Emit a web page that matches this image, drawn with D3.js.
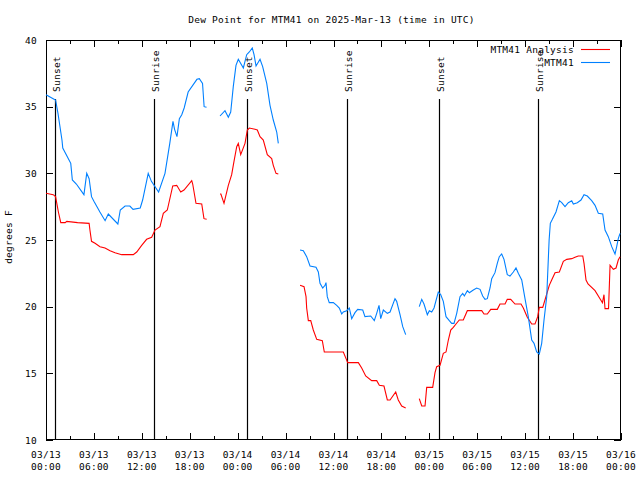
<!DOCTYPE html>
<html><head><meta charset="utf-8">
<script src="https://cdn.jsdelivr.net/npm/d3@7"></script>
<style>body{margin:0;background:#fff} text{letter-spacing:0.25px}</style>
</head><body><svg id="c" width="640" height="480"></svg>
<script>
// ---- data (hours after 2025-03-13 00:00 UTC; null value = gap) ----
const seriesNames = ["MTM41 Analysis", "MTM41"];
const analysisHours = [0.0,0.9,1.2,1.55,1.85,2.4,2.6,3.95,5.4,5.5,5.7,6.14,6.76,7.39,8.02,8.64,9.48,10.93,11.36,11.98,12.6,13.23,13.65,14.27,14.69,15.19,15.87,16.37,16.87,17.28,18.25,18.37,18.78,19.5,19.78,20.12,
  21.0,
  21.79,21.9,22.29,22.83,23.25,23.54,23.88,24.08,24.38,24.92,25.21,25.46,26.17,26.46,26.8,27.21,27.71,28.26,28.46,28.8,29.09,
  30.5,
  31.81,32.31,32.56,32.64,32.85,33.15,33.47,33.9,34.6,34.85,35.56,37.23,37.57,37.78,39.11,39.53,40.03,40.78,41.41,41.74,42.32,42.74,43.08,43.79,44.11,44.54,45.04,
  46.0,
  46.74,47.05,47.46,47.67,48.42,48.71,48.92,49.34,49.75,50.09,50.38,50.68,51.0,51.34,51.75,52.25,52.76,54.56,54.85,55.26,55.69,56.51,56.85,57.48,57.76,58.19,58.73,59.48,59.77,60.27,60.82,61.23,61.57,61.77,62.2,62.48,63.02,63.32,63.74,64.28,64.78,65.21,65.83,66.24,66.65,67.21,67.37,67.62,67.87,68.75,69.37,69.68,69.87,70.0,70.44,70.63,71.04,71.38,71.66,71.88];
const analysisValues = [28.5,28.4,28.25,27.1,26.3,26.3,26.4,26.3,26.25,25.75,24.9,24.75,24.5,24.4,24.2,24.05,23.9,23.9,24.1,24.6,25.05,25.2,25.75,26.0,27.0,27.25,29.05,29.1,28.6,28.75,29.45,29.2,27.75,27.7,26.6,26.55,
  null,
  28.45,28.45,27.75,29.1,29.9,30.9,32.0,32.25,31.4,32.25,33.25,33.4,33.3,33.25,32.75,32.5,31.4,31.1,30.6,30.0,29.95,
  null,
  21.6,21.5,20.75,19.9,18.95,18.95,18.25,17.55,17.45,16.6,16.6,16.6,16.1,15.8,15.8,15.4,14.8,14.45,14.45,14.1,14.05,13.0,13.0,13.6,13.0,12.55,12.4,
  null,
  13.1,12.55,12.55,13.95,13.95,15.05,15.5,15.6,16.5,16.6,17.5,18.25,18.45,18.7,19.0,19.0,19.7,19.7,19.45,19.45,19.8,19.8,20.2,20.2,20.55,20.55,20.2,20.2,19.9,19.2,18.7,18.7,19.25,19.95,19.95,20.5,21.6,22.0,22.55,22.6,23.4,23.55,23.6,23.7,23.8,23.8,23.25,22.0,21.7,21.2,20.6,20.3,20.9,19.85,19.85,23.1,22.8,22.9,23.5,23.75];

const stationHours = [0.0,0.9,1.2,1.5,2.0,2.1,2.8,3.1,3.3,3.8,4.75,5.1,5.4,5.7,6.0,6.75,7.4,7.8,9.0,9.3,9.9,10.5,10.9,11.8,12.1,12.8,13.2,14.1,14.9,15.5,15.9,16.1,16.4,16.7,17.0,17.3,17.8,18.9,19.2,19.6,19.8,20.1,
  21.0,
  21.79,22.41,22.83,23.13,23.45,23.79,24.08,24.71,25.13,25.46,25.83,26.05,26.3,26.8,27.13,27.64,28.05,28.46,28.89,29.09,
  30.5,
  31.81,32.22,32.64,33.06,33.81,34.1,34.31,34.65,34.94,35.06,35.22,35.47,35.98,36.4,36.73,37.03,37.23,37.65,37.98,38.28,38.69,39.03,39.66,39.94,40.66,41.11,41.41,41.7,41.91,42.24,42.74,43.08,43.7,43.91,44.33,44.67,45.04,
  46.0,
  46.74,47.05,47.33,47.75,48.0,48.3,48.59,49.12,49.42,49.75,50.09,50.5,50.8,51.09,51.43,51.84,52.18,52.38,52.76,53.01,53.51,53.93,54.35,54.68,54.97,55.26,55.6,55.81,56.22,56.51,56.76,57.06,57.35,57.76,58.1,58.52,58.85,59.14,59.57,59.98,60.39,60.82,61.11,61.44,61.77,62.07,62.36,62.7,63.0,63.15,63.41,63.86,64.28,64.58,64.99,65.4,65.83,66.03,66.53,66.99,67.37,67.78,68.33,68.75,69.16,69.71,70.0,70.41,70.84,71.25,71.46,71.66,71.88];
const stationValues = [35.9,35.6,35.5,34.5,32.5,31.9,31.1,30.75,29.5,29.2,28.4,30.0,29.6,28.25,27.9,27.1,26.45,26.95,26.2,27.25,27.55,27.55,27.3,27.4,28.0,30.0,29.4,28.6,30.0,32.25,33.9,33.3,32.75,34.1,34.4,34.9,36.1,37.05,37.1,36.75,35.0,34.95,
  null,
  34.3,34.7,34.2,34.6,36.5,38.1,38.55,37.9,38.9,39.1,39.4,38.9,38.05,38.55,38.0,36.75,35.1,34.0,33.1,32.25,
  null,
  24.25,24.2,23.75,23.05,22.95,22.6,21.75,21.4,21.6,21.8,20.75,20.3,20.3,20.1,19.9,19.45,19.6,19.7,19.9,19.1,19.55,19.8,19.75,19.25,19.3,18.95,19.5,20.1,19.1,19.75,19.5,19.6,20.6,20.4,19.4,18.5,17.9,
  null,
  20.0,20.55,20.2,19.4,19.7,19.6,19.9,21.1,20.9,20.4,19.25,18.95,18.75,18.75,19.5,20.75,21.0,20.8,21.2,21.05,21.25,21.4,21.3,20.8,20.55,20.6,21.4,22.1,22.55,23.25,23.75,23.95,23.55,22.4,22.3,22.6,22.9,22.5,22.0,20.6,19.25,17.5,17.25,16.6,16.45,17.25,19.0,20.75,25.0,26.25,26.55,27.1,27.95,27.8,27.5,27.8,27.95,27.7,27.8,28.0,28.4,28.3,27.95,27.6,27.0,26.95,25.75,25.25,24.5,23.95,24.5,25.1,25.5];

const eventNames = ["Sunset","Sunrise","Sunset","Sunrise","Sunset","Sunrise"];
const eventHours = [1.17,13.52,25.17,37.69,49.21,61.61];
const yTicks = [10,15,20,25,30,35,40];
const titleText = "Dew Point for MTM41 on 2025-Mar-13 (time in UTC)";
const yLabel = "degrees F";

// ---- chart ----
const FONT = "'DejaVu Sans Mono','Liberation Mono',monospace";
const FS = "9.5px";
const t0 = Date.UTC(2025,2,13,0,0);
const toDate = h => new Date(t0 + h*3600e3);
const svg = d3.select("#c");
const L = 46, R = 621, T = 40, B = 440;
const x = d3.scaleUtc().domain([toDate(0), toDate(72)]).range([L, R]);
const y = d3.scaleLinear().domain([10, 40]).range([B, T]);

svg.append("rect").attr("width",640).attr("height",480).attr("fill","#fff");

const major = d3.range(0, 73, 6).map(toDate);
const minor = d3.range(3, 72, 6).map(toDate);

// bottom axis
svg.append("g").attr("transform",`translate(0,${B})`)
  .call(d3.axisBottom(x).tickValues(major).tickSize(-7).tickSizeOuter(0).tickFormat(""));
svg.append("g").attr("transform",`translate(0,${B})`)
  .call(d3.axisBottom(x).tickValues(minor).tickSize(-4).tickSizeOuter(0).tickFormat(""));
// top axis
svg.append("g").attr("transform",`translate(0,${T})`)
  .call(d3.axisTop(x).tickValues(major).tickSize(-7).tickSizeOuter(0).tickFormat(""));
svg.append("g").attr("transform",`translate(0,${T})`)
  .call(d3.axisTop(x).tickValues(minor).tickSize(-4).tickSizeOuter(0).tickFormat(""));
// left / right
svg.append("g").attr("transform",`translate(${L},0)`)
  .call(d3.axisLeft(y).tickValues(yTicks).tickSize(-7).tickSizeOuter(0).tickPadding(9).tickFormat(d3.format("d")));
svg.append("g").attr("transform",`translate(${R},0)`)
  .call(d3.axisRight(y).tickValues(yTicks).tickSize(-7).tickSizeOuter(0).tickFormat(""));

svg.selectAll(".domain").remove();
svg.selectAll(".tick line").attr("stroke","#000").attr("shape-rendering","crispEdges");
svg.selectAll(".tick text").attr("font-family",FONT).attr("font-size",FS).attr("fill","#000");

// x labels (two lines)
const fd = d3.utcFormat("%m/%d"), ft = d3.utcFormat("%H:%M");
const xl = svg.append("g").attr("font-family",FONT).attr("font-size",FS).attr("text-anchor","middle");
major.forEach(d => {
  const t = xl.append("text").attr("x", x(d));
  t.append("tspan").attr("x", x(d)).attr("y", 457.5).text(fd(d));
  t.append("tspan").attr("x", x(d)).attr("y", 469.5).text(ft(d));
});

// border
svg.append("rect").attr("x",L+0.5).attr("y",T+0.5).attr("width",R-L-1).attr("height",B-T-1)
  .attr("fill","none").attr("stroke","#000").attr("shape-rendering","crispEdges");

// events
const ev = svg.append("g");
eventHours.forEach((h,i) => {
  const xp = Math.round(x(toDate(h))) + 0.5;
  ev.append("line").attr("x1",xp).attr("x2",xp).attr("y1",99).attr("y2",B)
    .attr("stroke","#000").attr("stroke-width",1.2);
  ev.append("text").attr("transform",`translate(${xp+4},92) rotate(-90)`)
    .attr("font-family",FONT).attr("font-size",FS).attr("text-anchor","start").text(eventNames[i]);
});

// lines
const mk = (hs, vs) => hs.map((h,i) => ({t: toDate(h), v: vs[i]}));
const line = d3.line().defined(d => d.v != null).x(d => x(d.t)).y(d => y(d.v));
const colors = ["#ff0000", "#0080ff"];
[[analysisHours, analysisValues],[stationHours, stationValues]].forEach((s,i) => {
  svg.append("path").datum(mk(s[0], s[1])).attr("d", line)
    .attr("fill","none").attr("stroke",colors[i]).attr("stroke-width",1.1);
});

// legend
const lg = svg.append("g").attr("font-family",FONT).attr("font-size",FS);
seriesNames.forEach((n,i) => {
  const yy = 49.5 + i*13;
  lg.append("text").attr("x",574).attr("y",yy+3.5).attr("text-anchor","end").text(n);
  lg.append("line").attr("x1",581).attr("x2",610).attr("y1",yy).attr("y2",yy)
    .attr("stroke",colors[i]).attr("stroke-width",1.1);
});

// title & y label
svg.append("text").attr("x",331.5).attr("y",23).attr("text-anchor","middle")
  .attr("font-family",FONT).attr("font-size",FS).text(titleText);
svg.append("text").attr("transform","translate(12,237) rotate(-90)").attr("text-anchor","middle")
  .attr("font-family",FONT).attr("font-size",FS).text(yLabel);
</script></body></html>
